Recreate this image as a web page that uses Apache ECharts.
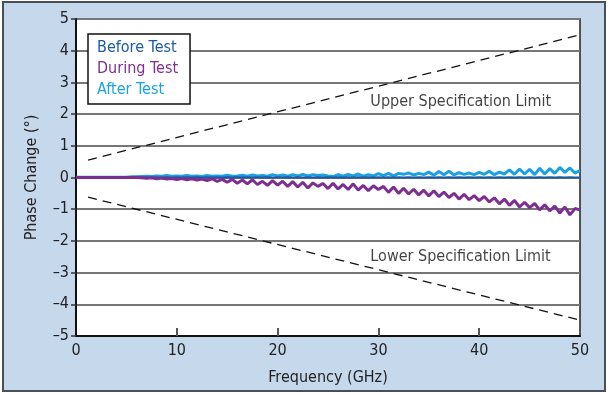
<!DOCTYPE html>
<html>
<head>
<meta charset="utf-8">
<title>Phase Change</title>
<script src="https://cdn.jsdelivr.net/npm/echarts@6/dist/echarts.min.js"></script>
<style>
  html, body { margin: 0; padding: 0; background: #fff; }
  #main { width: 610px; height: 396px; }
</style>
</head>
<body>
<div id="main"></div>
<script>
// frequency grid, GHz (rows of 5 GHz)
var freq = [
  0, 0.5, 1, 1.5, 2, 2.5, 3, 3.5, 4, 4.5,
  5, 5.5, 6, 6.5, 7, 7.5, 8, 8.5, 9, 9.5,
  10, 10.5, 11, 11.5, 12, 12.5, 13, 13.5, 14, 14.5,
  15, 15.5, 16, 16.5, 17, 17.5, 18, 18.5, 19, 19.5,
  20, 20.5, 21, 21.5, 22, 22.5, 23, 23.5, 24, 24.5,
  25, 25.5, 26, 26.5, 27, 27.5, 28, 28.5, 29, 29.5,
  30, 30.5, 31, 31.5, 32, 32.5, 33, 33.5, 34, 34.5,
  35, 35.5, 36, 36.5, 37, 37.5, 38, 38.5, 39, 39.5,
  40, 40.5, 41, 41.5, 42, 42.5, 43, 43.5, 44, 44.5,
  45, 45.5, 46, 46.5, 47, 47.5, 48, 48.5, 49, 49.5,
  50
];

var beforeTest = [
  0, 0, 0, 0, 0, 0, 0, 0, 0, 0,
  0, 0, 0, 0, 0.01, 0, 0.01, 0, 0.01, 0,
  0.01, 0, 0.01, 0, 0.01, 0, 0.01, 0, 0.01, 0,
  0.01, 0, 0.01, 0, 0.01, 0, 0.01, 0, 0.01, 0,
  0.01, 0, 0.01, 0, 0.01, 0, 0.01, 0, 0.01, 0,
  0.01, 0, 0.01, 0, 0.01, 0, 0.01, 0, 0.01, 0,
  0.01, 0, 0.01, 0, 0.01, 0, 0.01, 0, 0.01, 0,
  0.01, 0, 0.01, 0, 0.01, 0, 0.01, 0, 0.01, 0,
  0.01, 0, 0.01, 0, 0.01, 0, 0.01, 0, 0.01, 0,
  0.01, 0, 0.01, 0, 0.01, 0, 0.01, 0, 0.01, 0,
  0
];

var duringTest = [
  0, 0, 0, 0, 0, 0, 0, 0, 0, 0,
  0, 0, 0, -0.01, -0.02, -0.01, -0.04, -0.02, -0.05, -0.03,
  -0.06, -0.03, -0.07, -0.04, -0.08, -0.05, -0.1, -0.04, -0.12, -0.06,
  -0.15, -0.06, -0.18, -0.08, -0.2, -0.07, -0.22, -0.12, -0.25, -0.1,
  -0.24, -0.12, -0.28, -0.13, -0.3, -0.15, -0.33, -0.17, -0.28, -0.19,
  -0.35, -0.18, -0.36, -0.22, -0.38, -0.2, -0.4, -0.25, -0.42, -0.26,
  -0.38, -0.28, -0.47, -0.3, -0.5, -0.34, -0.52, -0.37, -0.55, -0.4,
  -0.58, -0.42, -0.6, -0.46, -0.63, -0.5, -0.68, -0.53, -0.7, -0.57,
  -0.73, -0.6, -0.77, -0.64, -0.83, -0.68, -0.88, -0.72, -0.93, -0.78,
  -0.95, -0.82, -1.02, -0.86, -1.05, -0.9, -1.12, -0.93, -1.18, -0.98,
  -1.02
];

var afterTest = [
  0.01, 0.01, 0.01, 0.01, 0.01, 0.01, 0.01, 0.01, 0.01, 0.01,
  0.01, 0.02, 0.02, 0.03, 0.04, 0.03, 0.05, 0.04, 0.06, 0.04,
  0.05, 0.04, 0.06, 0.04, 0.05, 0.03, 0.06, 0.04, 0.05, 0.04,
  0.07, 0.04, 0.05, 0.07, 0.04, 0.08, 0.05, 0.06, 0.04, 0.09,
  0.05, 0.08, 0.04, 0.09, 0.05, 0.1, 0.05, 0.09, 0.06, 0.08,
  0.05, 0.03, 0.09, 0.04, 0.1, 0.05, 0.11, 0.04, 0.09, 0.05,
  0.12, 0.06, 0.13, 0.05, 0.13, 0.1, 0.14, 0.08, 0.13, 0.09,
  0.17, 0.07, 0.19, 0.09, 0.2, 0.08, 0.15, 0.1, 0.14, 0.09,
  0.16, 0.1, 0.2, 0.09, 0.17, 0.11, 0.24, 0.1, 0.27, 0.11,
  0.26, 0.09, 0.29, 0.11, 0.28, 0.13, 0.32, 0.16, 0.3, 0.14,
  0.22
];

// specification limits (end points of dashed lines)
var upperLimit = [[1.2, 0.55], [50, 4.5]];
var lowerLimit = [[1.2, -0.62], [50, -4.5]];

var limitLabels = [
  { name: 'Upper Specification Limit', value: [29.2, 2.4] },
  { name: 'Lower Specification Limit', value: [29.2, -2.5] }
];

// inner tick marks on the frequency axis
var xTicks = [10, 20, 30, 40];

var seriesNames = ['Before Test', 'During Test', 'After Test'];
var seriesColors = ['#1c5aa6', '#7d2f91', '#1ba1e2'];

function pairs(ys) {
  var out = [];
  for (var i = 0; i < freq.length; i++) out.push([freq[i], ys[i]]);
  return out;
}

var font = '"Liberation Sans Narrow", "DejaVu Sans Condensed", "Roboto", sans-serif';

var myChart = echarts.init(document.getElementById('main'));

var option = {
  animation: false,
  textStyle: { fontFamily: font },
  graphic: [{
    type: 'rect',
    z: -10,
    silent: true,
    shape: { x: 3, y: 2, width: 602, height: 389 },
    style: { fill: '#c6d8ec', stroke: '#4a4f55', lineWidth: 2 }
  }],
  grid: {
    left: 76, right: 30, top: 19, bottom: 60,
    show: true,
    backgroundColor: '#fff',
    borderColor: '#222',
    borderWidth: 1.5
  },
  legend: {
    orient: 'vertical',
    left: 88, top: 34,
    data: seriesNames.map(function (n, i) {
      return { name: n, textStyle: { color: seriesColors[i] } };
    }),
    itemWidth: 0, itemHeight: 0, itemGap: 5,
    selectedMode: false,
    padding: [6, 12, 6, 3],
    backgroundColor: '#fff',
    borderColor: '#111',
    borderWidth: 1.5,
    borderRadius: 0,
    textStyle: { fontSize: 16, fontFamily: font }
  },
  xAxis: {
    type: 'value',
    position: 'bottom',
    min: 0, max: 50, interval: 10,
    name: 'Frequency (GHz)',
    nameLocation: 'middle',
    nameGap: 34,
    nameTextStyle: { fontSize: 16, color: '#222', fontFamily: font },
    axisLine: { show: true, onZero: false, lineStyle: { color: '#111', width: 2 } },
    axisTick: { show: false },
    axisLabel: { fontSize: 16, color: '#222', margin: 7 },
    splitLine: { show: false }
  },
  yAxis: {
    type: 'value',
    min: -5, max: 5, interval: 1,
    name: 'Phase Change (°)',
    nameLocation: 'middle',
    nameGap: 36,
    nameTextStyle: { fontSize: 16, color: '#222', fontFamily: font },
    axisLine: { show: true, onZero: false, lineStyle: { color: '#111', width: 2 } },
    axisTick: { show: true, length: 5, lineStyle: { color: '#333', width: 1.5 } },
    axisLabel: {
      fontSize: 16, color: '#222', margin: 7,
      formatter: function (v) { return String(v).replace('-', '\u2013'); }
    },
    splitLine: { show: true, lineStyle: { color: '#777', width: 2 } }
  },
  series: [
    {
      name: 'Upper limit', type: 'line', data: upperLimit, symbol: 'none', silent: true,
      lineStyle: { color: '#111', width: 1.3, type: [9, 6] }
    },
    {
      name: 'Lower limit', type: 'line', data: lowerLimit, symbol: 'none', silent: true,
      lineStyle: { color: '#111', width: 1.3, type: [9, 6] }
    },
    {
      name: 'After Test', type: 'line', data: pairs(afterTest), symbol: 'none',
      itemStyle: { color: seriesColors[2] },
      lineStyle: { color: seriesColors[2], width: 3 }
    },
    {
      name: 'Before Test', type: 'line', data: pairs(beforeTest), symbol: 'none',
      itemStyle: { color: seriesColors[0] },
      lineStyle: { color: seriesColors[0], width: 2 }
    },
    {
      name: 'During Test', type: 'line', data: pairs(duringTest), symbol: 'none',
      itemStyle: { color: seriesColors[1] },
      lineStyle: { color: seriesColors[1], width: 3 }
    },
    {
      name: 'limit labels', type: 'scatter', data: limitLabels, symbolSize: 0, silent: true,
      label: {
        show: true, position: 'right', distance: 0,
        formatter: '{b}', fontSize: 16, color: '#111', fontFamily: font
      }
    },
    {
      name: 'x ticks', type: 'line', data: [], symbol: 'none', silent: true, z: 10,
      markLine: {
        silent: true, symbol: ['none', 'none'], animation: false,
        label: { show: false },
        lineStyle: { color: '#555', width: 2, type: 'solid' },
        data: xTicks.map(function (t) {
          return [{ coord: [t, -5] }, { coord: [t, -4.75] }];
        })
      }
    }
  ]
};

myChart.setOption(option);
</script>
</body>
</html>
